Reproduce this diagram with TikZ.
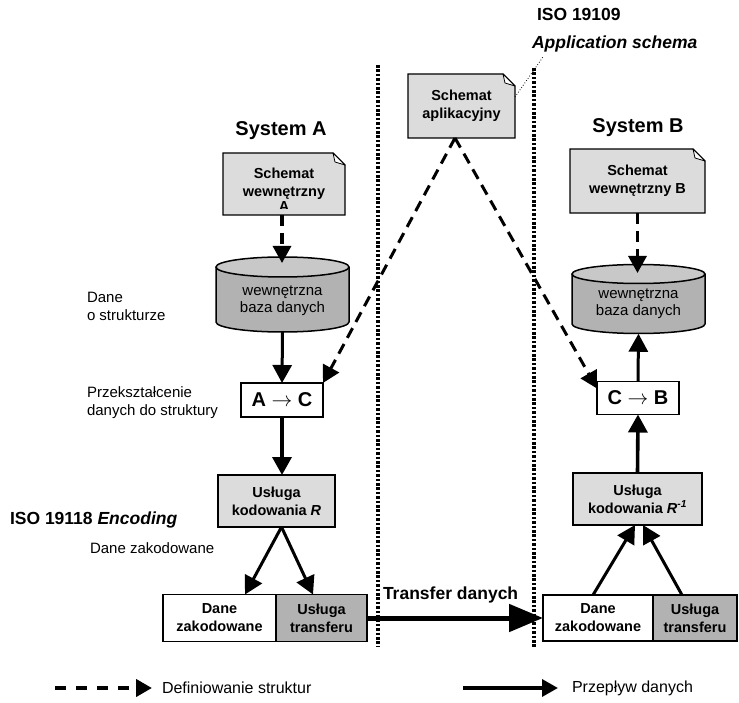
\documentclass[tikz,border=0pt]{standalone}
\usepackage{fontspec}
\setmainfont{Liberation Sans}
\usetikzlibrary{arrows.meta,backgrounds}
\definecolor{lightg}{HTML}{DCDCDC}
\definecolor{darkg}{HTML}{B2B2B2}
\definecolor{topg}{HTML}{C8C8C8}
\newcommand{\drawcyl}[5]{%
  \fill[darkg] ({#1-#2},#3) -- ({#1-#2},#4) .. controls ({#1-#2},{#4+0.5523*#5}) and ({#1-0.5523*#2},{#4+#5}) .. (#1,{#4+#5}) .. controls ({#1+0.5523*#2},{#4+#5}) and ({#1+#2},{#4+0.5523*#5}) .. ({#1+#2},#4) -- ({#1+#2},#3) -- cycle;
  \draw[line width=1.5pt] ({#1-#2},#3) -- ({#1-#2},#4) .. controls ({#1-#2},{#4+0.5523*#5}) and ({#1-0.5523*#2},{#4+#5}) .. (#1,{#4+#5}) .. controls ({#1+0.5523*#2},{#4+#5}) and ({#1+#2},{#4+0.5523*#5}) .. ({#1+#2},#4) -- ({#1+#2},#3);
  \draw[line width=1.5pt,fill=topg] (#1,#3) ellipse [x radius=#2, y radius=#5];
}
\begin{document}
\begin{tikzpicture}[x=1pt,y=-1pt,
  every node/.style={inner sep=0pt,outer sep=0pt},
  boxtxt/.style={font=\fontsize{14.5}{18}\selectfont\bfseries,align=center},
  regtxt/.style={font=\fontsize{15}{17}\selectfont},
  legtxt/.style={font=\fontsize{16}{18}\selectfont},
  cyltxt/.style={font=\fontsize{15}{17}\selectfont,align=center},
  bigtxt/.style={font=\fontsize{17.5}{21}\selectfont\bfseries},
  titletxt/.style={font=\fontsize{20}{24}\selectfont\bfseries},
  boxframe/.style={draw,line width=1.3pt},
  notebody/.style={fill=lightg,draw,line width=1.3pt,line join=miter},
  flow/.style={line width=3pt,-{Triangle[length=18pt,width=19pt]}},
  defn/.style={line width=3.2pt,dash pattern=on 11pt off 7pt,-{Triangle[length=17pt,width=18pt]}},
  sepline/.style={line width=3.2pt,dash pattern=on 2.6pt off 1.8pt},
]
\begin{scope}[on background layer]
\fill[white] (0,0) rectangle (739,703);
\end{scope}
\path[use as bounding box] (0,0) rectangle (739,703);

% separators
\coordinate (sepLt) at (378,65); \coordinate (sepLb) at (378,646);
\coordinate (sepRt) at (534,68); \coordinate (sepRb) at (534,648);
\draw[sepline] (sepLt) -- (sepLb);
\draw[sepline] (sepRt) -- (sepRb);

% ISO 19109 label
\node[bigtxt,anchor=base west] (iso1) at (537,21) {ISO 19109};
\node[bigtxt,anchor=base west] (iso2) at (532,49) {\itshape Application schema};

% application schema note
\node[boxtxt,minimum width=107pt,minimum height=64pt] (apl) at (461.5,106) {Schemat\\aplikacyjny};
\coordinate (leadEnd) at (543,57);
\draw[line width=0.8pt,dotted] ([yshift=-23pt]apl.north east) -- (leadEnd);

% titles
\node[titletxt,anchor=base] (sysA) at (281,136) {System A};
\node[titletxt,anchor=base] (sysB) at (638,133) {System B};

% notes A and B
\node[boxtxt,minimum width=122pt,minimum height=62pt] (noteA) at (284,184) {Schemat\\wewnętrzny};
\begin{scope}
\clip (223,150) rectangle (345,208.5);
\node[boxtxt,anchor=base] (noteAx) at (284,212) {A};
\end{scope}
\node[boxtxt,minimum width=135pt,minimum height=64pt] (noteB) at (637.5,181) {Schemat\\wewnętrzny B};

\begin{scope}[on background layer]
\foreach \n in {apl,noteA,noteB}{
  \path[notebody] (\n.north west) -- ([xshift=-12pt]\n.north east) -- ([yshift=-12pt]\n.north east) -- (\n.south east) -- (\n.south west) -- cycle;
  \path[fill=white,draw,line width=0.8pt,line join=round] ([xshift=-12pt]\n.north east) -- ([xshift=-10pt,yshift=-9pt]\n.north east) -- ([yshift=-12pt]\n.north east) -- cycle;
}
\end{scope}

% cylinders
\node[minimum width=133pt,minimum height=75pt] (cyA) at (282.5,294.5) {};
\drawcyl{282.5}{66.5}{267}{322}{10}
\node[cyltxt] (cyAt) at (282.5,300.5) {wewnętrzna\\baza danych};
\node[minimum width=133pt,minimum height=69pt] (cyB) at (638.5,299.25) {};
\drawcyl{638.5}{66.5}{274}{324}{9.5}
\node[cyltxt] (cyBt) at (638.5,304) {wewnętrzna\\baza danych};

% transformation boxes
\node[boxframe,fill=white,minimum width=82pt,minimum height=34pt,font=\fontsize{20}{24}\selectfont] (AC) at (282,400) {\textbf{A} $\rightarrow$ \textbf{C}};
\node[boxframe,fill=white,minimum width=82pt,minimum height=33pt,font=\fontsize{20}{24}\selectfont] (CB) at (638,398) {\textbf{C} $\rightarrow$ \textbf{B}};

% encoding services
\node[boxframe,fill=lightg,boxtxt,minimum width=117pt,minimum height=52pt] (uslR) at (276.5,501) {Usługa\\kodowania \textit{R}};
\node[boxframe,fill=lightg,boxtxt,minimum width=129pt,minimum height=52pt] (uslRi) at (637.5,499) {Usługa\\kodowania \textit{R}\textsuperscript{\textit{-1}}};

% compound boxes
\node[boxframe,fill=white,boxtxt,minimum width=113pt,minimum height=47pt] (dzL) at (219.5,618) {Dane\\zakodowane};
\node[boxframe,fill=darkg,boxtxt,minimum width=91pt,minimum height=47pt] (utL) at (321.5,618) {Usługa\\transferu};
\node[boxframe,fill=white,boxtxt,minimum width=110pt,minimum height=46pt] (dzR) at (598,618) {Dane\\zakodowane};
\node[boxframe,fill=darkg,boxtxt,minimum width=84pt,minimum height=46pt] (utR) at (695,618) {Usługa\\transferu};

% left labels
\node[regtxt,anchor=base west] (lb1) at (87,302.5) {Dane};
\node[regtxt,anchor=base west] (lb2) at (87,320.5) {o strukturze};
\node[regtxt,anchor=base west] (lb3) at (87,397.5) {Przekształcenie};
\node[regtxt,anchor=base west] (lb4) at (87,415.5) {danych do struktury};
\node[bigtxt,anchor=base west] (lb5) at (10,524) {ISO 19118 \textit{Encoding}};
\node[regtxt,anchor=base west] (lb6) at (90,553.5) {Dane zakodowane};
\node[bigtxt,anchor=base west] (lb7) at (383,599) {Transfer danych};

% structure definition connectors
\coordinate (cyAin) at (282,263);
\coordinate (cyBin) at (637.5,273);
\coordinate (aplS) at ([xshift=-6.5pt]apl.south);
\draw[defn] ([xshift=-2pt]noteA.south) -- (cyAin);
\draw[defn] (noteB.south) -- (cyBin);
\draw[defn,line width=3pt] (aplS) -- (AC.north east);
\draw[defn,line width=3pt] (aplS) -- ([yshift=-7pt]CB.north west);

% data flow connectors
\draw[flow] (cyA.south) -- (AC.north);
\draw[flow,line width=3.6pt] (AC.south) -- (AC.south |- uslR.north);
\draw[flow] ([xshift=5pt]uslR.south) -- ([xshift=25.5pt]dzL.north);
\draw[flow] ([xshift=5pt]uslR.south) -- ([xshift=-8.5pt]utL.north);
\draw[line width=5pt,-{Triangle[length=34pt,width=27pt]}] (utL.east) -- (dzR.west);
\draw[flow] ([xshift=-5pt]dzR.north) -- ([xshift=-2.5pt]uslRi.south);
\draw[flow] ([xshift=-13pt]utR.north) -- ([xshift=5.5pt]uslRi.south);
\draw[flow,line width=3.6pt] (uslRi.north) -- (CB.south);
\draw[flow] (CB.north) -- (cyB.south);

% legend
\coordinate (lg1a) at (55,688); \coordinate (lg1b) at (152,688);
\coordinate (lg2a) at (463,688); \coordinate (lg2b) at (558,688);
\draw[line width=4.5pt,dash pattern=on 11pt off 10pt,-{Triangle[length=16pt,width=17pt]}] (lg1a) -- (lg1b);
\node[legtxt,anchor=west] (lg1t) at (162,688) {Definiowanie struktur};
\draw[line width=3.5pt,-{Triangle[length=16pt,width=17pt]}] (lg2a) -- (lg2b);
\node[legtxt,anchor=west] (lg2t) at (572,688) {Przepływ danych};
\end{tikzpicture}
\end{document}
